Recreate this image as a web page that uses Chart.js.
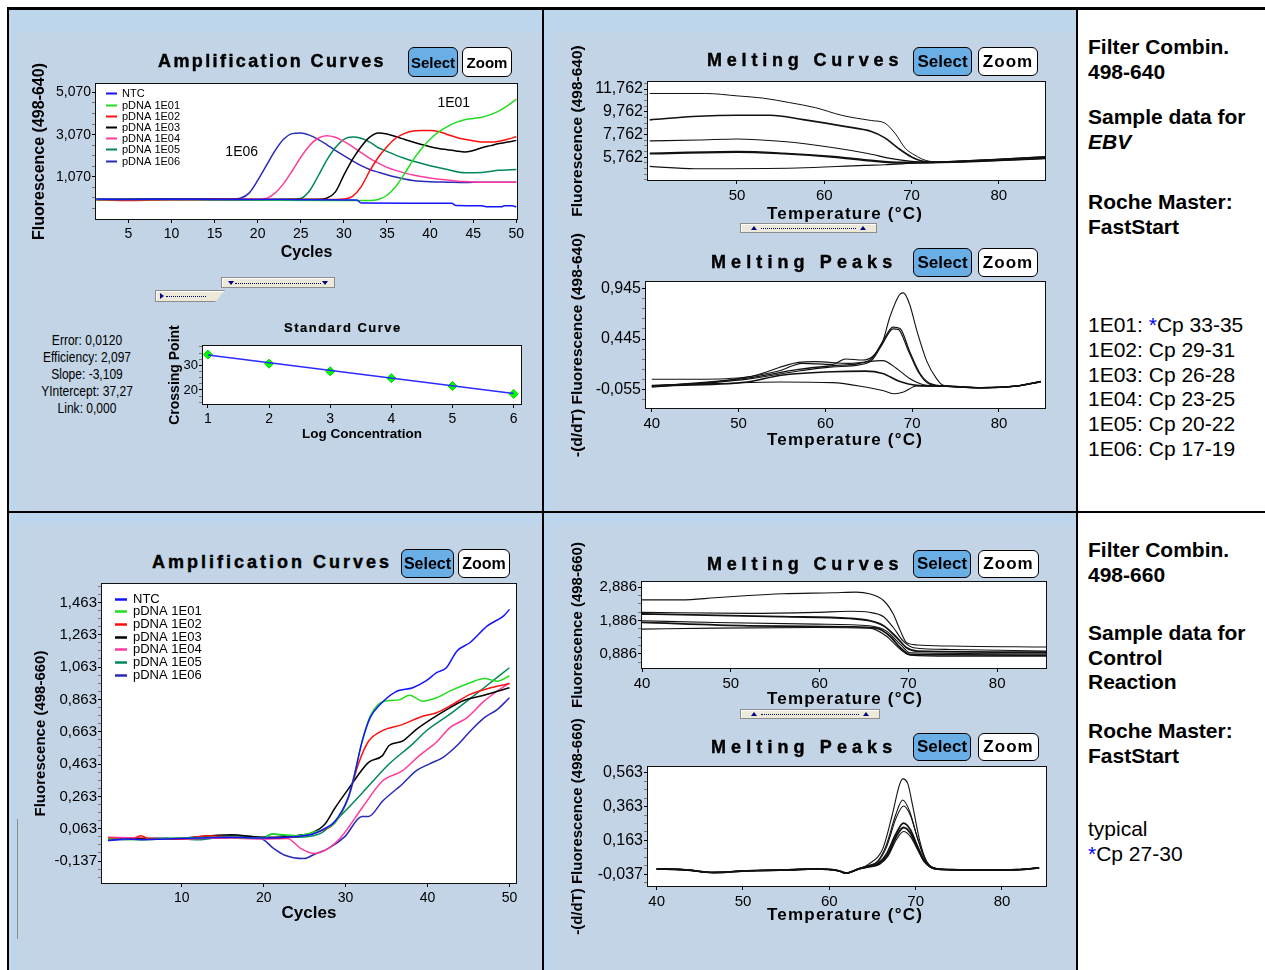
<!DOCTYPE html>
<html>
<head>
<meta charset="utf-8">
<script src="https://cdn.jsdelivr.net/npm/chart.js@4.4.0/dist/chart.umd.min.js"></script>
<style>
  body { margin: 0; background: #fff; }
  #page { position: relative; width: 1265px; height: 970px; overflow: hidden; font-family: 'Liberation Sans', Arial, sans-serif; color: #000; }
  .cell { position: absolute; background: #bed6ec; }
  .inner { position: absolute; background: #c2d4e6; }
  .rule { position: absolute; background: #000; }
  canvas { position: absolute; }
  .ttl { position: absolute; font-weight: bold; font-size: 18px; line-height: 20px; white-space: nowrap; -webkit-text-stroke: 0.4px #000; }
  .axt { position: absolute; font-weight: bold; font-size: 17px; line-height: 20px; letter-spacing: 1.2px; white-space: nowrap; }
  .btn { position: absolute; box-sizing: border-box; border: 1.5px solid #000; border-radius: 6px; background: #fff;
         font-weight: bold; font-size: 15px; display: flex; align-items: center; justify-content: center; }
  .btn.sel { background: #6aaee6; }
  .slider { position: absolute; box-sizing: border-box; background: #ece9d8; border: 1px solid #8c8c8c; box-shadow: inset 1px 1px 0 #fff; }
  .dots { position: absolute; left: 13px; right: 13px; top: 50%; border-top: 1px dotted #000080; }
  .tri-d, .tri-u, .tri-r { position: absolute; width: 0; height: 0; }
  .tri-d { top: 3px; border-left: 3px solid transparent; border-right: 3px solid transparent; border-top: 4px solid #000080; }
  .tri-u { top: 2px; border-left: 3px solid transparent; border-right: 3px solid transparent; border-bottom: 4px solid #000080; }
  .tri-r { top: 2px; border-top: 3px solid transparent; border-bottom: 3px solid transparent; border-left: 4px solid #000080; }
  .stats { position: absolute; text-align: center; font-size: 14px; line-height: 17px; white-space: nowrap;
           transform: scaleX(0.86); transform-origin: 50% 50%; }
  .note { position: absolute; left: 1088px; font-size: 21px; line-height: 24.5px; white-space: nowrap; }
  .note b { font-weight: bold; }
  .star { color: #0000ff; }
</style>
</head>
<body>
<div id="page">
  <div class="cell" style="left:9px;top:10px;width:533px;height:501px"></div>
  <div class="inner" style="left:18px;top:33px;width:524px;height:478px"></div>
  <div class="cell" style="left:544px;top:10px;width:532px;height:501px"></div>
  <div class="inner" style="left:552px;top:33px;width:524px;height:478px"></div>
  <div class="cell" style="left:9px;top:513px;width:533px;height:457px"></div>
  <div class="inner" style="left:18px;top:525px;width:524px;height:445px"></div>
  <div class="cell" style="left:544px;top:513px;width:532px;height:457px"></div>
  <div class="inner" style="left:552px;top:525px;width:524px;height:445px"></div>

  <div class="rule" style="left:7px;top:7px;width:1258px;height:3px"></div>
  <div class="rule" style="left:7px;top:7px;width:2px;height:963px"></div>
  <div class="rule" style="left:542px;top:7px;width:2px;height:963px"></div>
  <div class="rule" style="left:1076px;top:7px;width:2px;height:963px"></div>
  <div class="rule" style="left:7px;top:511px;width:1258px;height:2px"></div>
  <div class="rule" style="left:17px;top:819px;width:1px;height:120px;background:#8a8a8a"></div>

  <canvas id="cA"></canvas>
  <canvas id="cB"></canvas>
  <canvas id="cC"></canvas>
  <canvas id="cD"></canvas>
  <canvas id="cE"></canvas>
  <canvas id="cF"></canvas>
  <canvas id="cG"></canvas>

  <!-- chart titles and buttons -->
  <div class="ttl" style="left:158px;top:51px;letter-spacing:2.4px">Amplification Curves</div>
  <div class="btn sel" style="left:408px;top:47px;width:50px;height:30px">Select</div>
  <div class="btn" style="left:462px;top:47px;width:50px;height:30px">Zoom</div>

  <div class="ttl" style="left:707px;top:50px;letter-spacing:4.8px">Melting Curves</div>
  <div class="btn sel" style="left:913px;top:47px;width:59px;height:29px;font-size:17px">Select</div>
  <div class="btn" style="left:978px;top:47px;width:60px;height:29px;font-size:17px;letter-spacing:1px">Zoom</div>
  <div class="axt" style="left:767px;top:204px">Temperature (°C)</div>

  <div class="ttl" style="left:711px;top:252px;letter-spacing:5.1px">Melting Peaks</div>
  <div class="btn sel" style="left:913px;top:248px;width:59px;height:29px;font-size:17px">Select</div>
  <div class="btn" style="left:978px;top:248px;width:60px;height:29px;font-size:17px;letter-spacing:1px">Zoom</div>
  <div class="axt" style="left:767px;top:430px">Temperature (°C)</div>

  <div class="ttl" style="left:284px;top:318px;font-size:13px;letter-spacing:1.5px;-webkit-text-stroke:0.2px #000">Standard Curve</div>

  <div class="ttl" style="left:152px;top:552px;letter-spacing:3px">Amplification Curves</div>
  <div class="btn sel" style="left:401px;top:549px;width:53px;height:29px;font-size:16px">Select</div>
  <div class="btn" style="left:458px;top:549px;width:52px;height:29px;font-size:16px">Zoom</div>

  <div class="ttl" style="left:707px;top:554px;letter-spacing:4.8px">Melting Curves</div>
  <div class="btn sel" style="left:913px;top:550px;width:58px;height:28px;font-size:17px">Select</div>
  <div class="btn" style="left:978px;top:550px;width:61px;height:28px;font-size:17px;letter-spacing:1px">Zoom</div>
  <div class="axt" style="left:767px;top:689px">Temperature (°C)</div>

  <div class="ttl" style="left:711px;top:737px;letter-spacing:5.1px">Melting Peaks</div>
  <div class="btn sel" style="left:913px;top:733px;width:58px;height:28px;font-size:17px">Select</div>
  <div class="btn" style="left:978px;top:733px;width:61px;height:28px;font-size:17px;letter-spacing:1px">Zoom</div>
  <div class="axt" style="left:767px;top:905px">Temperature (°C)</div>

  <!-- little slider widgets -->
  <div class="slider" style="left:221px;top:277px;width:114px;height:11px">
    <div class="tri-d" style="left:6px"></div><div class="dots"></div><div class="tri-d" style="right:6px"></div>
  </div>
  <div class="slider" style="left:155px;top:290px;width:70px;height:12px;clip-path:polygon(0 0,100% 0,86% 100%,0 100%)">
    <div class="tri-r" style="left:4px"></div><div class="dots" style="left:10px;right:18px"></div>
  </div>
  <div class="slider" style="left:740px;top:223px;width:137px;height:10px">
    <div class="tri-u" style="left:10px"></div><div class="dots" style="left:20px;right:20px"></div><div class="tri-u" style="right:10px"></div>
  </div>
  <div class="slider" style="left:740px;top:709px;width:140px;height:10px">
    <div class="tri-u" style="left:10px"></div><div class="dots" style="left:20px;right:20px"></div><div class="tri-u" style="right:10px"></div>
  </div>

  <div class="stats" style="left:27px;top:332px;width:120px">Error: 0,0120<br>Efficiency: 2,097<br>Slope: -3,109<br>YIntercept: 37,27<br>Link: 0,000</div>

  <!-- right column notes -->
  <div class="note" style="top:35px"><b>Filter Combin.<br>498-640</b></div>
  <div class="note" style="top:105px"><b>Sample data for<br><i>EBV</i></b></div>
  <div class="note" style="top:190px"><b>Roche Master:<br>FastStart</b></div>
  <div class="note" style="top:313px;line-height:24.8px">1E01: <span class="star">*</span>Cp 33-35<br>1E02: Cp 29-31<br>1E03: Cp 26-28<br>1E04: Cp 23-25<br>1E05: Cp 20-22<br>1E06: Cp 17-19</div>

  <div class="note" style="top:538px"><b>Filter Combin.<br>498-660</b></div>
  <div class="note" style="top:621px"><b>Sample data for<br>Control<br>Reaction</b></div>
  <div class="note" style="top:719px"><b>Roche Master:<br>FastStart</b></div>
  <div class="note" style="top:817px">typical<br><span class="star">*</span>Cp 27-30</div>
</div>

<script>
// ---- names and colours ----
const seriesNames = ['NTC', 'pDNA 1E01', 'pDNA 1E02', 'pDNA 1E03', 'pDNA 1E04', 'pDNA 1E05', 'pDNA 1E06'];
const seriesColors = ['#1414ff', '#22dc22', '#ff1010', '#000000', '#ff3c9c', '#00875a', '#2a2ab8'];

// ---- amplification 498-640 (cycle, fluorescence/1000) ----
const ampA_NTC = [[1.3,0.02],[5,0.0],[10,0.01],[15,0.0],[20,0.0],[25,-0.01],[31.5,-0.02],[32,-0.17],[42.5,-0.18],[43,-0.29],[46,-0.3],[46.5,-0.34],[48.3,-0.34],[48.6,-0.3],[49.5,-0.3],[50,-0.35]];
const ampA_E01 = [[1.3,0.0],[10,0.0],[20,-0.03],[28,-0.05],[33,-0.05],[34,0.0],[35,0.2],[36,0.6],[37,1.2],[38,1.85],[39,2.4],[40,2.85],[41,3.2],[42,3.45],[43,3.65],[44,3.78],[45,3.84],[46,3.9],[47,4.02],[48,4.2],[49,4.45],[50,4.75]];
const ampA_E02 = [[1.3,0.0],[5,-0.05],[10,0.0],[20,0.0],[29,0.0],[30,0.02],[31,0.15],[32,0.6],[33,1.35],[34,2.0],[35,2.5],[36,2.9],[37,3.12],[38,3.24],[39,3.27],[40,3.27],[41,3.22],[42,3.08],[43,2.95],[44,2.85],[45,2.78],[46,2.72],[47,2.72],[48,2.76],[49,2.85],[50,2.97]];
const ampA_E03 = [[1.3,0.0],[10,0.02],[20,0.0],[27,0.01],[28,0.06],[29,0.35],[30,1.15],[31,1.9],[32,2.5],[33,2.95],[34,3.15],[35,3.1],[36,2.98],[37,2.85],[38,2.72],[39,2.6],[40,2.5],[41,2.42],[42,2.36],[43,2.3],[44,2.25],[45,2.32],[46,2.45],[47,2.55],[48,2.65],[49,2.72],[50,2.8]];
const ampA_E04 = [[1.3,0.0],[12,-0.03],[15,0.0],[20,0.01],[21,0.05],[22,0.3],[23,0.75],[24,1.35],[25,2.0],[26,2.55],[27,2.9],[28,3.02],[29,2.95],[30,2.75],[31,2.5],[32,2.22],[33,1.95],[34,1.72],[35,1.52],[36,1.38],[37,1.26],[38,1.16],[40,1.02],[42,0.92],[43,0.88],[44,0.85],[46,0.82],[50,0.82]];
const ampA_E05 = [[1.3,0.0],[8,-0.03],[16,-0.03],[24,0.01],[25,0.05],[26,0.4],[27,1.1],[28,1.85],[29,2.45],[30,2.85],[31,2.96],[32,2.9],[33,2.72],[34,2.45],[35,2.28],[36,2.1],[37,1.95],[38,1.82],[40,1.6],[42,1.42],[44,1.27],[46,1.28],[48,1.38],[50,1.42]];
const ampA_E06 = [[1.3,0.0],[10,0.02],[17,0.02],[18,0.06],[19,0.3],[20,0.9],[21,1.6],[22,2.3],[23,2.85],[24,3.12],[25,3.15],[26,3.05],[27,2.85],[28,2.6],[29,2.33],[30,2.08],[31,1.83],[32,1.6],[33,1.42],[34,1.29],[35,1.17],[36,1.06],[37,0.97],[38,0.9],[39,0.86],[40,0.84],[42,0.82],[44,0.8],[46,0.82],[48,0.81],[50,0.82]];
const ampA_notes = [{ text: '1E01', x: 42.75, y: 4.57 }, { text: '1E06', x: 18.15, y: 2.22 }];
const ampA_yMajor = [1.07, 3.07, 5.07];
const ampA_xTicks = [5, 10, 15, 20, 25, 30, 35, 40, 45, 50];

// ---- standard curve ----
const stdLog = [1, 2, 3, 4, 5, 6];
const stdCp = [34.4, 30.7, 27.6, 24.8, 21.6, 18.4];
const stdFitLog = [1, 6];
const stdFitCp = [34.2, 18.6];
const std_yMajor = [20, 30];
const std_xTicks = [1, 2, 3, 4, 5, 6];

// ---- melting curves 498-640 ----
const mcA1 = [[40,11.37],[46.4,11.37],[50,11.16],[53,10.96],[56,10.57],[59,10.12],[62,9.45],[65.4,8.99],[66.9,8.78],[68.1,7.88],[69.3,6.54],[70.4,5.94],[71.6,5.49],[73,5.36],[76,5.45],[80,5.6],[85.3,5.82]];
const mcA2 = [[40,9.05],[45.6,9.37],[50,9.46],[53.8,9.46],[57.6,9.07],[62.3,8.48],[65.4,8.03],[66.9,7.49],[68.5,6.54],[70,5.79],[71.2,5.43],[73,5.34],[76,5.42],[80,5.56],[85.3,5.78]];
const mcA3 = [[40,7.2],[45.6,7.28],[50,7.37],[55.3,7.14],[61.1,6.6],[65,6.09],[67.7,5.64],[70,5.4],[72,5.32],[76,5.4],[80,5.52],[85.3,5.72]];
const mcA4 = [[40,6.09],[50,6.24],[55.3,6.09],[61.1,5.79],[65,5.49],[68.9,5.28],[72,5.3],[76,5.38],[80,5.5],[85.3,5.68]];
const mcA5 = [[40,4.96],[45.2,4.75],[56.9,4.81],[64.6,5.05],[66.9,5.1],[70.8,5.25],[73,5.3],[76,5.36],[80,5.48],[85.3,5.65]];
const mcA_yMajor = [5.762, 7.762, 9.762, 11.762];
const mcA_xTicks = [50, 60, 70, 80];

// ---- melting peaks 498-640 ----
const mpA1 = [[40,-0.018],[47.2,0.02],[51,0.07],[54.9,0.138],[57.3,0.205],[60.8,0.195],[62.3,0.248],[64.3,0.238],[65.4,0.27],[66.6,0.42],[67.4,0.655],[68.6,0.888],[69,0.9],[69.7,0.788],[70.5,0.538],[71.7,0.222],[72.8,0.055],[73.6,-0.012],[74.4,-0.018],[78.3,-0.035],[82.2,-0.015],[84.8,0.028]];
const mpA2 = [[40,-0.02],[51,0.06],[56.9,0.145],[60.8,0.182],[63.9,0.205],[65.4,0.255],[66.6,0.42],[67.8,0.562],[68.6,0.548],[69.7,0.322],[70.9,0.105],[72.1,0.005],[74,-0.02],[78,-0.035],[82,-0.018],[84.8,0.025]];
const mpA3 = [[40,-0.03],[51,0.05],[56.9,0.13],[60.8,0.17],[63.9,0.19],[65.4,0.24],[66.6,0.4],[67.8,0.545],[68.4,0.54],[69.5,0.34],[70.7,0.12],[72,0.0],[74,-0.022],[78,-0.038],[82,-0.02],[84.8,0.022]];
const mpA4 = [[40,0.048],[45.2,0.048],[51,0.07],[56.9,0.215],[58.8,0.222],[62.7,0.205],[66.6,0.232],[68.2,0.155],[69.7,0.055],[71.3,-0.005],[74,-0.02],[78,-0.035],[82,-0.018],[84.8,0.025]];
const mpA5 = [[40,-0.018],[51,0.022],[54.9,0.088],[60.8,0.122],[64.6,0.128],[66.6,0.105],[68.5,0.028],[70.5,-0.012],[74,-0.02],[78,-0.035],[82,-0.018],[84.8,0.025]];
const mpA6 = [[40,-0.012],[47.2,0.005],[54.9,0.022],[60.8,0.015],[64.6,-0.028],[66.6,-0.062],[68,-0.095],[69,-0.078],[70.5,-0.018],[74,-0.02],[78,-0.035],[82,-0.018],[84.8,0.025]];
const mpA_yMajor = [-0.055, 0.445, 0.945];
const mpA_xTicks = [40, 50, 60, 70, 80];

// ---- amplification 498-660 ----
const ampB_NTC = [[1,-0.01],[3,0.0],[5,-0.005],[8,0.0],[12,0.005],[16,0.01],[20,0.005],[24,0.015],[26,0.03],[27.4,0.062],[28.7,0.108],[30.3,0.254],[31,0.38],[32,0.6],[33,0.75],[34,0.82],[36.1,0.91],[38.2,0.935],[39.8,0.977],[41.1,1.028],[42.3,1.059],[43.6,1.163],[45.2,1.215],[47.3,1.318],[49.3,1.38],[50,1.42]];
const ampB_E01 = [[1,0.0],[5,-0.005],[10,0.005],[15,0.01],[20,0.005],[21,0.03],[24,0.02],[26,0.04],[27.4,0.06],[28.7,0.1],[30.3,0.25],[31,0.38],[32,0.6],[33,0.76],[34,0.832],[35.3,0.856],[36.5,0.86],[37.8,0.889],[39.4,0.852],[41.1,0.873],[42.7,0.914],[45.2,0.966],[46.9,0.993],[48.5,0.976],[50,1.008]];
const ampB_E02 = [[1,0.005],[4,0.0],[5,0.02],[6,0.0],[10,0.0],[13,0.02],[16,0.01],[20,0.005],[24,0.015],[27,0.05],[28.7,0.1],[30.3,0.25],[31.6,0.47],[32.8,0.604],[34.5,0.67],[36.9,0.707],[39.4,0.759],[41.1,0.78],[42.7,0.821],[45.2,0.894],[47.7,0.935],[50,0.96]];
const ampB_E03 = [[1,0.0],[8,0.0],[16,0.025],[20,0.01],[24,0.02],[26,0.04],[27.4,0.087],[28.7,0.191],[30.3,0.306],[32.8,0.473],[34.5,0.515],[35.3,0.578],[36.9,0.604],[38.6,0.676],[40.7,0.749],[42.7,0.811],[44.4,0.856],[46.9,0.889],[50,0.935]];
const ampB_E04 = [[1,0.01],[5,0.005],[10,0.0],[15,0.005],[20,0.0],[22.9,0.003],[24.5,-0.059],[26.2,-0.091],[27.9,-0.059],[29.5,0.014],[32,0.191],[34.5,0.358],[36.9,0.421],[39,0.515],[41.1,0.599],[42.7,0.687],[44.8,0.749],[46.9,0.852],[48.5,0.914],[50,0.966]];
const ampB_E05 = [[1,0.0],[8,0.005],[12,-0.005],[16,0.02],[20,0.01],[21,0.03],[24,0.01],[26,0.02],[27,0.035],[28.7,0.108],[30.3,0.191],[32.8,0.327],[35.3,0.463],[38.2,0.588],[39.8,0.666],[42.7,0.77],[44.8,0.852],[46.9,0.935],[50,1.059]];
const ampB_E06 = [[1,-0.01],[5,0.0],[10,0.0],[15,0.005],[19.6,0.003],[21.2,-0.059],[22.5,-0.1],[24.9,-0.122],[26.2,-0.095],[27.9,-0.059],[29.9,0.014],[32,0.139],[32.8,0.139],[34.5,0.233],[36.9,0.338],[38.6,0.421],[40.2,0.463],[41.9,0.505],[43.6,0.578],[45.2,0.666],[46.9,0.749],[48.5,0.8],[50,0.873]];
const ampB_yMajor = [-0.137, 0.063, 0.263, 0.463, 0.663, 0.863, 1.063, 1.263, 1.463];
const ampB_xTicks = [10, 20, 30, 40, 50];

// ---- melting curves 498-660 ----
const mcB1 = [[40,2.502],[44.4,2.502],[48.2,2.563],[52,2.633],[55.8,2.684],[61.5,2.714],[64.1,2.734],[65.6,2.684],[67.2,2.482],[68.3,2.078],[69.1,1.573],[69.8,1.22],[71,1.149],[74.8,1.118],[85.5,1.088]];
const mcB2 = [[40,2.128],[52,2.098],[59.6,2.128],[63.4,2.159],[65.6,2.128],[67.2,1.997],[68.3,1.674],[69.4,1.27],[70.6,1.068],[74.8,1.017],[85.5,0.967]];
const mcB3 = [[40,2.078],[44.4,2.06],[55.8,1.997],[63.4,1.947],[65.6,1.876],[67.2,1.724],[68.7,1.371],[69.8,1.068],[71,0.967],[85.5,0.936]];
const mcB4 = [[40,1.876],[48.2,1.825],[59.6,1.775],[65.6,1.724],[67.5,1.573],[69.1,1.169],[70.2,0.916],[85.5,0.886]];
const mcB5 = [[40,1.825],[52,1.724],[63.4,1.694],[66.4,1.654],[67.9,1.421],[69.1,1.068],[70.2,0.866],[85.5,0.846]];
const mcB6 = [[40,1.624],[48.2,1.654],[59.6,1.674],[65.6,1.654],[67.5,1.421],[69.1,1.017],[70.2,0.846],[74.8,0.815],[85.5,0.815]];
const mcB_yMajor = [0.886, 1.886, 2.886];
const mcB_xTicks = [40, 50, 60, 70, 80];

// ---- melting peaks 498-660 ----
const mpB_low = [[40,-0.006],[43,-0.01],[46.6,-0.027],[50.5,-0.017],[55,-0.012],[58.4,-0.006],[61.1,-0.017],[61.9,-0.031],[63.4,-0.006]];
const mpB_tail = [[74,-0.01],[77.9,-0.012],[81.8,-0.01],[84.3,0.0]];
const mpB1 = [[64.6,0.024],[66.2,0.114],[67.3,0.316],[68.1,0.487],[68.5,0.527],[69.1,0.497],[69.7,0.356],[70.5,0.155],[71.3,0.034],[72,0.004]];
const mpB2 = [[64.6,0.014],[65.6,0.04],[66.6,0.135],[67.7,0.316],[68.5,0.402],[69.3,0.336],[70.1,0.195],[70.9,0.074],[71.6,0.014],[72.4,-0.005]];
const mpB3 = [[64.6,0.014],[65.6,0.035],[66.6,0.12],[67.7,0.29],[68.6,0.366],[69.4,0.31],[70.2,0.18],[71,0.065],[71.7,0.01],[72.4,-0.005]];
const mpB4 = [[64.6,0.01],[65.6,0.025],[66.6,0.08],[67.7,0.2],[68.6,0.265],[69.4,0.225],[70.2,0.13],[71,0.045],[71.7,0.005],[72.4,-0.006]];
const mpB5 = [[64.6,0.008],[65.8,0.025],[66.8,0.08],[67.8,0.19],[68.6,0.239],[69.4,0.205],[70.2,0.12],[71,0.04],[71.8,0.004],[72.5,-0.007]];
const mpB6 = [[64.6,0.005],[65.8,0.02],[66.8,0.07],[67.8,0.17],[68.6,0.215],[69.4,0.185],[70.2,0.11],[71,0.035],[71.8,0.002],[72.5,-0.008]];
const mpB_yMajor = [-0.037, 0.163, 0.363, 0.563];
const mpB_xTicks = [40, 50, 60, 70, 80];

// ---- helpers ----
const FONT = "'Liberation Sans', Arial, sans-serif";
const comma3 = v => v.toFixed(3).replace('.', ',');
const whole = v => String(Math.round(v));
const pts = arr => arr.map(p => ({ x: p[0], y: p[1] }));
const zip = (xs, ys) => xs.map((x, i) => [x, ys[i]]);

// minor tick positions, stepping out from the first labelled value
function spread(anchor, step, min, max) {
  const out = [];
  const k0 = Math.ceil((min - anchor) / step - 1e-9);
  for (let k = k0; anchor + k * step <= max + 1e-9; k++) out.push(+(anchor + k * step).toFixed(4));
  return out;
}

function curve(label, data, color, width, inLegend) {
  return { label, data: pts(data), borderColor: color, backgroundColor: color, borderWidth: width,
           pointRadius: 0, fill: false, cubicInterpolationMode: 'monotone', inLegend: !!inLegend };
}
const ampSet = list => list.map((d, i) => curve(seriesNames[i], d, seriesColors[i], 1.5, true));
const blackSet = (list, widths) => list.map((d, i) => curve('run ' + (i + 1), d, '#111', widths[i] || 1.1));

// white plot field with a thin black frame
const framePlugin = {
  id: 'frame',
  beforeDraw(c) {
    const a = c.chartArea, x = c.ctx;
    x.save(); x.fillStyle = '#fff'; x.fillRect(a.left, a.top, a.width, a.height); x.restore();
  },
  afterDraw(c) {
    const a = c.chartArea, x = c.ctx;
    x.save(); x.strokeStyle = '#111'; x.lineWidth = 1;
    x.strokeRect(Math.round(a.left) - 0.5, Math.round(a.top) - 0.5, Math.round(a.width) + 1, Math.round(a.height) + 1);
    x.restore();
  }
};

// legend drawn inside the plot, top-left
const legendPlugin = {
  id: 'boxLegend',
  afterDatasetsDraw(c, args, o) {
    if (!o || !o.size) return;
    const a = c.chartArea, ctx = c.ctx;
    ctx.save();
    ctx.font = o.size + 'px ' + FONT;
    ctx.textBaseline = 'middle';
    let row = 0;
    c.data.datasets.forEach(d => {
      if (!d.inLegend) return;
      const y = Math.round(a.top + o.top + row * o.row) + 0.5;
      ctx.strokeStyle = d.borderColor; ctx.lineWidth = o.lineW;
      ctx.beginPath(); ctx.moveTo(a.left + o.left, y); ctx.lineTo(a.left + o.left + o.len, y); ctx.stroke();
      ctx.fillStyle = '#000';
      ctx.fillText(d.label, a.left + o.left + o.len + o.gap, y);
      row++;
    });
    ctx.restore();
  }
};

// free text placed at data coordinates
const labelPlugin = {
  id: 'curveLabels',
  afterDatasetsDraw(c, args, o) {
    if (!o || !o.items) return;
    const ctx = c.ctx, xs = c.scales.x, ys = c.scales.y;
    ctx.save();
    ctx.font = o.size + 'px ' + FONT; ctx.fillStyle = '#000';
    ctx.textAlign = 'center'; ctx.textBaseline = 'middle';
    for (let i = 0; i < o.items.length; i++) {
      const it = o.items[i];
      ctx.fillText(it.text, xs.getPixelForValue(it.x), ys.getPixelForValue(it.y));
    }
    ctx.restore();
  }
};

// g.area = plot rectangle [left, top, right, bottom] in page pixels
function build(id, g) {
  const cv = document.getElementById(id);
  cv.width = g.right - g.left; cv.height = g.bottom - g.top;
  cv.style.left = g.left + 'px'; cv.style.top = g.top + 'px';
  const a = g.area;
  const yTicks = spread(g.yMajor[0], g.yStep, g.yMin, g.yMax);
  const isMajor = v => g.yMajor.some(m => Math.abs(m - v) < 1e-6);
  return new Chart(cv, {
    type: 'line',
    data: { datasets: g.datasets },
    plugins: [framePlugin, legendPlugin, labelPlugin],
    options: {
      responsive: false, animation: false, events: [],
      layout: { padding: { left: 0, top: a[1] - g.top, right: g.right - a[2], bottom: 0 } },
      plugins: { legend: { display: false }, tooltip: { enabled: false },
                 boxLegend: g.legend || false, curveLabels: g.labels || false },
      scales: {
        x: {
          type: 'linear', bounds: 'data', min: g.xMin, max: g.xMax,
          afterBuildTicks: s => { s.ticks = g.xTicks.map(v => ({ value: v })); },
          afterFit: s => { s.height = g.bottom - a[3]; s.paddingLeft = 0; s.paddingRight = 0; },
          ticks: { autoSkip: false, maxRotation: 0, minRotation: 0, padding: 3, color: '#000',
                   font: { family: FONT, size: g.xFont }, callback: v => String(v) },
          grid: { drawOnChartArea: false, color: '#000', tickLength: 4 },
          border: { display: false },
          title: g.xTitle ? { display: true, text: g.xTitle, color: '#000',
                   font: { family: FONT, size: g.xTitleSize, weight: 'bold' },
                   padding: { top: 0, bottom: g.xTitlePad || 0 } } : { display: false }
        },
        y: {
          type: 'linear', bounds: 'data', min: g.yMin, max: g.yMax,
          afterBuildTicks: s => { s.ticks = yTicks.map(v => ({ value: v })); },
          afterFit: s => { s.width = a[0] - g.left; s.paddingTop = 0; s.paddingBottom = 0; },
          ticks: { autoSkip: false, padding: 1, color: '#000', font: { family: FONT, size: g.yFont },
                   callback: v => isMajor(v) ? g.yFmt(v) : '' },
          grid: { drawOnChartArea: false, color: '#000', tickLength: 4,
                  tickColor: c => (c.tick && isMajor(c.tick.value)) ? '#000' : '#777' },
          border: { display: false },
          title: { display: true, text: g.yTitle, color: '#000',
                   font: { family: FONT, size: g.yTitleSize, weight: 'bold' }, padding: 0 }
        }
      }
    }
  });
}

// ---- top-left: amplification 498-640 ----
build('cA', {
  left: 30, top: 55, right: 530, bottom: 262, area: [96, 84, 517, 219],
  xMin: 1.25, xMax: 50.08, xTicks: ampA_xTicks, xFont: 14, xTitle: 'Cycles', xTitleSize: 16,
  yMin: -0.925, yMax: 5.47, yMajor: ampA_yMajor, yStep: 0.5, yFont: 14, yFmt: comma3,
  yTitle: 'Fluorescence (498-640)', yTitleSize: 16,
  datasets: ampSet([ampA_NTC, ampA_E01, ampA_E02, ampA_E03, ampA_E04, ampA_E05, ampA_E06]),
  legend: { left: 10, top: 9.4, row: 11.2, len: 11, gap: 5, size: 11, lineW: 2 },
  labels: { size: 14, items: ampA_notes }
});

// ---- standard curve ----
build('cB', {
  left: 167, top: 318, right: 533, bottom: 442, area: [203, 346, 521, 404],
  xMin: 0.92, xMax: 6.12, xTicks: std_xTicks, xFont: 14, xTitle: 'Log Concentration', xTitleSize: 13.5,
  yMin: 14.3, yMax: 37.9, yMajor: std_yMajor, yStep: 2.5, yFont: 13, yFmt: whole,
  yTitle: 'Crossing Point', yTitleSize: 14,
  datasets: [
    { label: 'fit', data: pts(zip(stdFitLog, stdFitCp)), borderColor: '#2b2bff', borderWidth: 1.5, pointRadius: 0, fill: false },
    { label: 'standards', data: pts(zip(stdLog, stdCp)), showLine: false, pointStyle: 'rectRot', pointRadius: 4.5,
      pointBackgroundColor: '#00ff00', pointBorderColor: '#00cc00', pointBorderWidth: 1 }
  ]
});

// ---- top-middle: melting curves and peaks 498-640 ----
build('cC', {
  left: 568, top: 40, right: 1060, bottom: 222, area: [648, 82, 1045, 180],
  xMin: 39.8, xMax: 85.3, xTicks: mcA_xTicks, xFont: 15,
  yMin: 3.76, yMax: 12.38, yMajor: mcA_yMajor, yStep: 0.5, yFont: 16, yFmt: comma3,
  yTitle: 'Fluorescence (498-640)', yTitleSize: 15.5,
  datasets: blackSet([mcA1, mcA2, mcA3, mcA4, mcA5], [1, 1.6, 1.1, 2.2, 1.1])
});

build('cD', {
  left: 568, top: 228, right: 1060, bottom: 462, area: [646, 282, 1045, 408],
  xMin: 39.33, xMax: 85.3, xTicks: mpA_xTicks, xFont: 15,
  yMin: -0.235, yMax: 1.007, yMajor: mpA_yMajor, yStep: 0.1, yFont: 16, yFmt: comma3,
  yTitle: '-(d/dT) Fluorescence (498-640)', yTitleSize: 15.5,
  datasets: blackSet([mpA1, mpA2, mpA3, mpA4, mpA5, mpA6], [1.1, 1.3, 1.1, 1.1, 1.6, 1.1])
});

// ---- bottom-left: amplification 498-660 ----
build('cE', {
  left: 32, top: 574, right: 530, bottom: 924, area: [102, 584, 516, 883],
  xMin: 0.26, xMax: 50.8, xTicks: ampB_xTicks, xFont: 14, xTitle: 'Cycles', xTitleSize: 17,
  yMin: -0.273, yMax: 1.577, yMajor: ampB_yMajor, yStep: 0.05, yFont: 15, yFmt: comma3,
  yTitle: 'Fluorescence (498-660)', yTitleSize: 15,
  datasets: ampSet([ampB_NTC, ampB_E01, ampB_E02, ampB_E03, ampB_E04, ampB_E05, ampB_E06]),
  legend: { left: 13, top: 14.5, row: 12.67, len: 12, gap: 6, size: 13, lineW: 2.5 }
});

// ---- bottom-middle: melting curves and peaks 498-660 ----
build('cF', {
  left: 569, top: 538, right: 1061, bottom: 710, area: [642, 582, 1046, 668],
  xMin: 40, xMax: 85.5, xTicks: mcB_xTicks, xFont: 15,
  yMin: 0.461, yMax: 3.036, yMajor: mcB_yMajor, yStep: 0.25, yFont: 15, yFmt: comma3,
  yTitle: 'Fluorescence (498-660)', yTitleSize: 15,
  datasets: blackSet([mcB1, mcB2, mcB3, mcB4, mcB5, mcB6], [1.1, 1.1, 1.8, 1.1, 1.8, 1.1])
});

build('cG', {
  left: 569, top: 716, right: 1061, bottom: 936, area: [648, 767, 1046, 886],
  xMin: 39.0, xMax: 85.1, xTicks: mpB_xTicks, xFont: 15,
  yMin: -0.107, yMax: 0.597, yMajor: mpB_yMajor, yStep: 0.05, yFont: 16, yFmt: comma3,
  yTitle: '-(d/dT) Fluorescence (498-660)', yTitleSize: 15,
  datasets: blackSet([mpB_low.concat(mpB1, mpB_tail), mpB_low.concat(mpB2, mpB_tail), mpB_low.concat(mpB3, mpB_tail),
                      mpB_low.concat(mpB4, mpB_tail), mpB_low.concat(mpB5, mpB_tail), mpB_low.concat(mpB6, mpB_tail)],
                     [1.1, 1.1, 1.1, 1.8, 1.8, 1.1])
});
</script>
</body>
</html>
